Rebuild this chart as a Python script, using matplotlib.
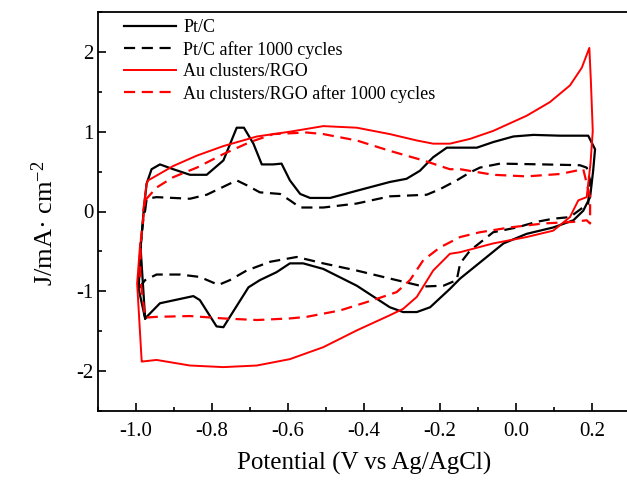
"""
plot.py: cyclic voltammograms, Pt/C vs Au clusters/RGO, before and after 1000 cycles.

Writes: out.png
"""

import matplotlib
matplotlib.use("Agg")
import matplotlib.pyplot as plt
from matplotlib.ticker import MultipleLocator

plt.rcParams["font.family"] = ["Liberation Serif", "DejaVu Serif"]
plt.rcParams["axes.unicode_minus"] = False
plt.rcParams["mathtext.fontset"] = "custom"
plt.rcParams["mathtext.rm"] = "Liberation Serif"
plt.rcParams["mathtext.it"] = "Liberation Serif:italic"
plt.rcParams["mathtext.bf"] = "Liberation Serif:bold"

# Pt/C, fresh (closed loop: anodic sweep, then cathodic sweep back)
pt_v = [-0.976, -0.988, -0.979, -0.972, -0.959, -0.937, -0.902, -0.858, -0.814,
        -0.770, -0.735, -0.716, -0.691, -0.669, -0.639, -0.617, -0.595, -0.568,
        -0.542, -0.489, -0.419, -0.332, -0.288, -0.253, -0.218, -0.182, -0.156,
        -0.103, -0.060, -0.007, 0.046, 0.116, 0.190, 0.208, 0.203, 0.195, 0.177,
        0.151, 0.098, 0.028, -0.033, -0.077, -0.147, -0.174, -0.226, -0.261,
        -0.297, -0.332, -0.419, -0.507, -0.560, -0.595, -0.630, -0.674, -0.704,
        -0.753, -0.770, -0.788, -0.832, -0.849, -0.937, -0.976, -0.993, -0.988]
pt_j = [-1.34, -0.45, 0.05, 0.35, 0.53, 0.59, 0.53, 0.46, 0.46,
        0.64, 1.05, 1.05, 0.85, 0.59, 0.59, 0.60, 0.39, 0.22,
        0.17, 0.17, 0.26, 0.37, 0.41, 0.51, 0.68, 0.80, 0.80,
        0.80, 0.87, 0.94, 0.96, 0.95, 0.95, 0.78, 0.51, 0.18, 0.01,
        -0.11, -0.20, -0.28, -0.40, -0.57, -0.84, -0.97, -1.20, -1.26,
        -1.26, -1.20, -0.93, -0.72, -0.65, -0.65, -0.76, -0.86, -0.95,
        -1.32, -1.45, -1.44, -1.11, -1.06, -1.15, -1.34, -0.97, -0.45]

# Pt/C after 1000 cycles
pt1k_v = [-0.976, -0.972, -0.946, -0.902, -0.858, -0.814, -0.770, -0.735, -0.709,
          -0.674, -0.621, -0.595, -0.568, -0.507, -0.419, -0.332, -0.235, -0.200,
          -0.156, -0.121, -0.095, -0.042, 0.072, 0.168, 0.186, 0.195, 0.190,
          0.142, 0.098, 0.054, 0.002, -0.060, -0.121, -0.147, -0.156, -0.191,
          -0.244, -0.279, -0.332, -0.419, -0.507, -0.577, -0.647, -0.709, -0.753,
          -0.783, -0.832, -0.884, -0.946, -0.976, -0.994, -0.989, -0.981, -0.976]
pt1k_j = [0.01, 0.16, 0.18, 0.17, 0.16, 0.21, 0.31, 0.39, 0.33,
          0.24, 0.22, 0.14, 0.05, 0.05, 0.10, 0.19, 0.21, 0.28,
          0.39, 0.49, 0.55, 0.60, 0.59, 0.58, 0.55, 0.39, 0.10,
          -0.07, -0.09, -0.13, -0.20, -0.26, -0.49, -0.65, -0.86, -0.93,
          -0.94, -0.90, -0.84, -0.74, -0.65, -0.57, -0.63, -0.74, -0.86,
          -0.92, -0.82, -0.79, -0.79, -0.86, -0.97, -0.49, -0.11, 0.01]

# Au clusters/RGO, fresh
au_v = [-0.981, -0.972, -0.968, -0.902, -0.840, -0.770, -0.682, -0.595, -0.507,
        -0.419, -0.332, -0.261, -0.218, -0.174, -0.121, -0.060, 0.028, 0.089,
        0.142, 0.173, 0.193, 0.197, 0.202, 0.196, 0.186, 0.164, 0.142, 0.098,
        0.028, -0.060, -0.147, -0.174, -0.218, -0.261, -0.297, -0.332, -0.419,
        -0.507, -0.595, -0.682, -0.770, -0.858, -0.946, -0.983, -0.985, -0.997,
        -0.989]
au_j = [0.01, 0.35, 0.39, 0.57, 0.70, 0.82, 0.94, 1.00, 1.07,
        1.05, 0.97, 0.89, 0.85, 0.85, 0.91, 1.01, 1.20, 1.37,
        1.58, 1.80, 2.05, 1.64, 1.01, 0.60, 0.18, 0.14, -0.07, -0.24,
        -0.32, -0.40, -0.51, -0.53, -0.74, -1.07, -1.22, -1.30, -1.49,
        -1.70, -1.85, -1.93, -1.95, -1.93, -1.86, -1.88, -1.88, -0.90,
        -0.40]

# Au clusters/RGO after 1000 cycles
au1k_v = [-0.976, -0.946, -0.902, -0.840, -0.770, -0.700, -0.639, -0.551, -0.507,
          -0.419, -0.332, -0.244, -0.174, -0.147, -0.060, 0.028, 0.116, 0.177,
          0.195, 0.195, 0.186, 0.151, 0.072, -0.016, -0.095, -0.147, -0.200,
          -0.244, -0.279, -0.314, -0.376, -0.463, -0.551, -0.595, -0.682, -0.770,
          -0.858, -0.946, -0.976, -0.989, -0.987, -0.976]
au1k_j = [0.14, 0.30, 0.43, 0.55, 0.72, 0.87, 0.97, 0.99, 0.97,
          0.89, 0.76, 0.64, 0.53, 0.53, 0.46, 0.44, 0.47, 0.53,
          0.18, -0.15, -0.11, -0.13, -0.15, -0.20, -0.26, -0.32, -0.45,
          -0.61, -0.86, -1.01, -1.11, -1.24, -1.32, -1.34, -1.36, -1.34,
          -1.31, -1.32, -1.33, -0.82, -0.35, 0.14]

labels = ["Pt/C", "Pt/C after 1000 cycles", "Au clusters/RGO",
          "Au clusters/RGO after 1000 cycles"]

fig = plt.figure(figsize=(6.27, 4.84), dpi=100)
ax = fig.add_axes([98 / 627, 73 / 484, 532 / 627, 399 / 484])

dash = (0, (5, 3))
ax.plot(pt_v, pt_j, color="black", lw=1.6, label=labels[0])
ax.plot(pt1k_v, pt1k_j, color="black", lw=1.6, ls=dash, label=labels[1])
ax.plot(au_v, au_j, color="#ff0000", lw=1.4, label=labels[2])
ax.plot(au1k_v, au1k_j, color="#ff0000", lw=1.6, ls=dash, label=labels[3])

ax.set_xlim(-1.1, 0.3)
ax.set_ylim(-2.5, 2.5)
ax.xaxis.set_major_locator(MultipleLocator(0.2))
ax.xaxis.set_minor_locator(MultipleLocator(0.1))
ax.yaxis.set_major_locator(MultipleLocator(1))
ax.yaxis.set_minor_locator(MultipleLocator(0.5))
ax.xaxis.set_major_formatter(lambda v, p: f"{v:.1f}")
ax.yaxis.set_major_formatter(lambda v, p: f"{v:.0f}")
ax.tick_params(which="both", direction="in", labelsize=15, width=1.2)
ax.tick_params(which="major", length=6)
ax.tick_params(which="minor", length=3)
ax.tick_params(axis="x", pad=8)
for s in ax.spines.values():
    s.set_linewidth(1.3)

ax.set_xlabel("Potential (V vs Ag/AgCl)", fontsize=18, labelpad=8)
ax.set_ylabel("J/mA· cm$^{-2}$", fontsize=19, labelpad=10)
ax.yaxis.set_label_coords(-0.075, 0.47)

ax.legend(loc="upper left", frameon=False, fontsize=13, handlelength=2.9,
          handletextpad=0.4, labelspacing=0.25, borderaxespad=0.0,
          bbox_to_anchor=(0.035, 1.0))

fig.savefig("out.png", dpi=100)
plt.close(fig)
